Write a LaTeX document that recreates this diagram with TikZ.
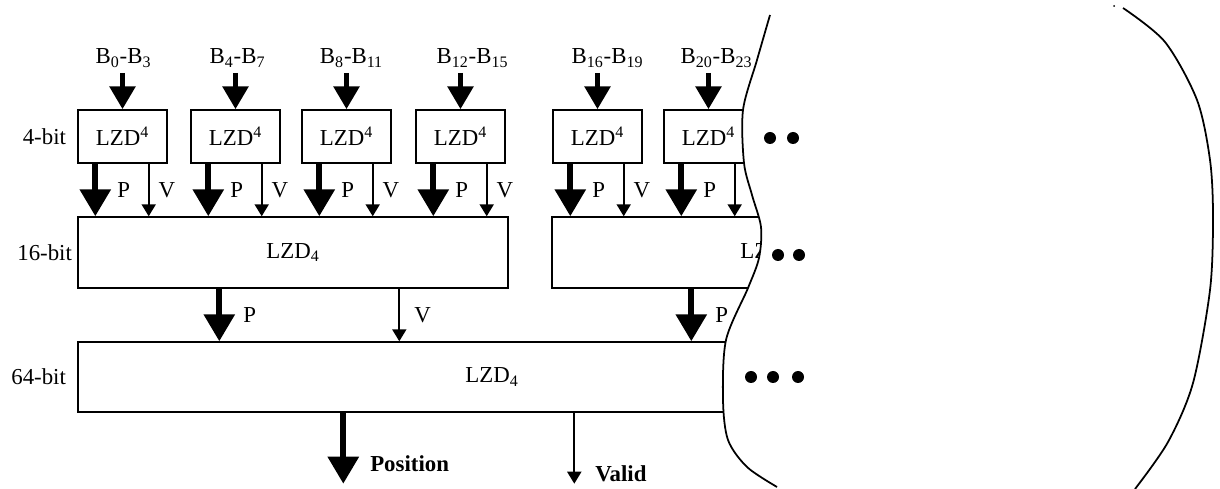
\documentclass[tikz,border=0pt]{standalone}
\usepackage{fontspec}
\setmainfont{Liberation Serif}
\usetikzlibrary{arrows.meta,calc,positioning}

\tikzset{
  blk/.style={draw,line width=0.8pt,inner sep=0pt},
  bitlbl/.style={inner sep=0pt},
  inarr/.style={line width=3.4pt,-{Triangle[width=5mm,length=4.6mm]}},
  parr/.style={line width=3.4pt,-{Triangle[width=6mm,length=5.4mm]}},
  varr/.style={line width=1.1pt,-{Triangle[width=2.8mm,length=2.4mm]}},
  sig/.style={anchor=west,inner sep=0pt},
  bigdot/.style={fill,circle,inner sep=0pt,minimum width=2mm,minimum height=2.4mm},
  edge/.style={line width=1pt},
}

\begin{document}
\begin{tikzpicture}[x=0.2mm,y=-0.2mm,font=\fontsize{13}{15}\selectfont]
\useasboundingbox (0,0) rectangle (1220,489);

\begin{scope}
\clip (0,0) -- (776,0) -- plot[smooth] coordinates {(770,15) (757,60) (743,110) (744,163) (752,195) (761,227) (759,258) (748,288) (726,340) (723,400) (728,440) (747,467) (777,487)} -- (777,489) -- (0,489) -- cycle;

% 16-bit and 64-bit stages
\node[blk,minimum width=86mm,minimum height=14.2mm] (m1) at (293,252.5) {LZD\textsubscript{4}};
\node[blk,minimum width=86mm,minimum height=14.2mm] (m2) at (767,252.5) {LZD\textsubscript{4}};
\node[blk,minimum width=165.6mm,minimum height=14mm] (t1) at (492,377) {LZD\textsubscript{4}};

% 4-bit stage
\foreach \n/\x/\dx/\lo/\hi/\tgt/\vl in {1/122.5/1/0/3/m1/V, 2/235.5/2/4/7/m1/V, 3/346.5/5/8/11/m1/V,
    4/460.5/12/12/15/m1/V, 5/597.5/10/16/19/m2/V, 6/708.5/8/20/23/m2/{}}{
  \node[blk,minimum width=17.8mm,minimum height=10.6mm] (b\n) at (\x,136.5) {LZD\textsuperscript{4}};
  \node[inner sep=1pt] (in\n) at (\x+\dx,58) {B\textsubscript{\lo}-B\textsubscript{\hi}};
  \draw[inarr] (b\n.north |- 0,73) -- (b\n.north);
  \path ($(b\n.south west)+(18,0)$) coordinate (p\n)
        ($(b\n.south east)+(-19,0)$) coordinate (v\n);
  \draw[parr] (p\n) -- (p\n |- \tgt.north) node[sig,midway,xshift=3.8mm]{P};
  \draw[varr] (v\n) -- (v\n |- \tgt.north) node[sig,midway,xshift=1.8mm]{\vl};
}

\path ($(m1.south west)+(142,0)$) coordinate (pm1)
      ($(m1.south west)+(322,0)$) coordinate (vm1)
      ($(m2.south west)+(140,0)$) coordinate (pm2);
\draw[parr] (pm1) -- (pm1 |- t1.north) node[sig,midway,xshift=4.2mm]{P};
\draw[varr] (vm1) -- (vm1 |- t1.north) node[sig,midway,xshift=2.8mm]{V};
\draw[parr] (pm2) -- (pm2 |- t1.north) node[sig,midway,xshift=4.2mm]{P};
\end{scope}

% outputs
\path ($(t1.south west)+(266,0)$) coordinate (po)
      ($(t1.south west)+(497,0)$) coordinate (vo);
\coordinate (poend) at ($(po)+(0,71)$);
\coordinate (voend) at ($(vo)+(0,71)$);
\draw[parr] (po) -- (poend) node[sig,pos=0.72,xshift=4.8mm]{\textbf{Position}};
\draw[varr] (vo) -- (voend) node[sig,pos=0.86,xshift=4mm]{\textbf{Valid}};

% word widths
\node[bitlbl,left=2.2mm of b1] (w4) {4-bit};
\node[bitlbl,left=1mm of m1] (w16) {16-bit};
\node[bitlbl,left=2.2mm of t1] (w64) {64-bit};

% more of the same
\foreach \x/\y in {770/138, 793/138, 778/255, 799/255, 751/377, 773/377, 798/377}
  \node[bigdot] at (\x,\y) {};

% cut edges
\draw[edge] plot[smooth] coordinates {(770,15) (757,60) (743,110) (744,163) (752,195) (761,227) (759,258) (748,288) (726,340) (723,400) (728,440) (747,467) (777,487)};
\draw[edge] plot[smooth] coordinates {(1123,8) (1165,42) (1197,100) (1210,160) (1213,217) (1210,290) (1193,383) (1168,442) (1135,489)};
\fill (1114,6) circle (1);
\end{tikzpicture}
\end{document}
